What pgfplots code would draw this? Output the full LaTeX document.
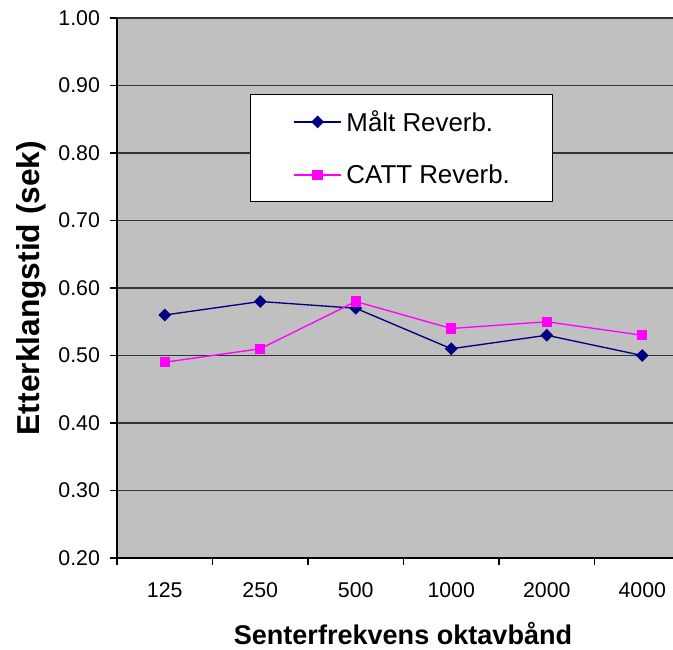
\documentclass[border=0pt]{standalone}
\usepackage{pgfplots}
\pgfplotsset{compat=1.18}
\usepackage{fontspec}
\setmainfont{Liberation Sans}
\definecolor{bggray}{RGB}{192,192,192}
\definecolor{navyc}{RGB}{0,0,128}
\definecolor{magc}{RGB}{255,0,255}
\begin{document}
\begin{tikzpicture}
\begin{axis}[
  at={(0,0)}, anchor=south west,
  scale only axis, width=417pt, height=405pt,
  xmin=-0.5, xmax=5.322, ymin=0.2, ymax=1.0,
  axis background/.style={fill=bggray},
  axis x line*=bottom, axis y line*=left,
  axis line style={black, line width=1pt},
  xtick={0,1,2,3,4,5},
  xticklabels={125,250,500,1000,2000,4000},
  minor xtick={-0.5,0.5,1.5,2.5,3.5,4.5},
  major x tick style={draw=none},
  minor x tick style={black, line width=0.8pt},
  ytick={0.2,0.3,0.4,0.5,0.6,0.7,0.8,0.9,1.0},
  y tick style={black, line width=0.8pt},
  tick align=outside,
  major tick length=5.25pt, minor tick length=5.25pt,
  ymajorgrids, grid style={black!80, line width=1.1pt},
  /pgf/number format/.cd, fixed, fixed zerofill, precision=2, assume math mode=true, /pgfplots/.cd,
  tick label style={font=\fontsize{16}{19}\selectfont},
  xticklabel style={yshift=-10pt},
  yticklabel style={xshift=-4pt},
  xlabel={Senterfrekvens oktavbånd},
  xlabel style={font=\bfseries\fontsize{20.3}{24}\selectfont, at={(ticklabel cs:0.5144)}, anchor=near ticklabel, yshift=-11pt},
  ylabel={Etterklangstid (sek)},
  ylabel style={font=\bfseries\fontsize{23.8}{28}\selectfont, yshift=2pt},
  legend cell align=left,
  legend style={at={(0.2392,0.8593)}, anchor=north west, draw=black, line width=0.75pt, fill=white,
    inner xsep=0pt, inner ysep=10pt, row sep=19.5pt, font=\fontsize{19.4}{23}\selectfont},
  legend image code/.code={\path (0pt,0pt) (69pt,0pt);
    \draw[mark repeat=2, mark phase=2] plot coordinates {(32.25pt,0pt) (49.875pt,0pt) (67.5pt,0pt)};},
]
\addplot[color=navyc, line width=1pt, mark=square*, mark size=3.0pt, mark options={rotate=45, solid, line width=0.8pt}]
  coordinates {(0,0.56) (1,0.58) (2,0.57) (3,0.51) (4,0.53) (5,0.50)};
\addlegendentry{Målt Reverb.}
\addplot[color=magc, line width=1pt, mark=square*, mark size=3.5pt, mark options={solid, line width=0.8pt}]
  coordinates {(0,0.49) (1,0.51) (2,0.58) (3,0.54) (4,0.55) (5,0.53)};
\addlegendentry{CATT Reverb.\hspace*{30pt}}
\end{axis}
\pgfresetboundingbox
\useasboundingbox (-87.75pt,-68.25pt) rectangle (417pt,418.5pt);
\end{tikzpicture}
\end{document}
